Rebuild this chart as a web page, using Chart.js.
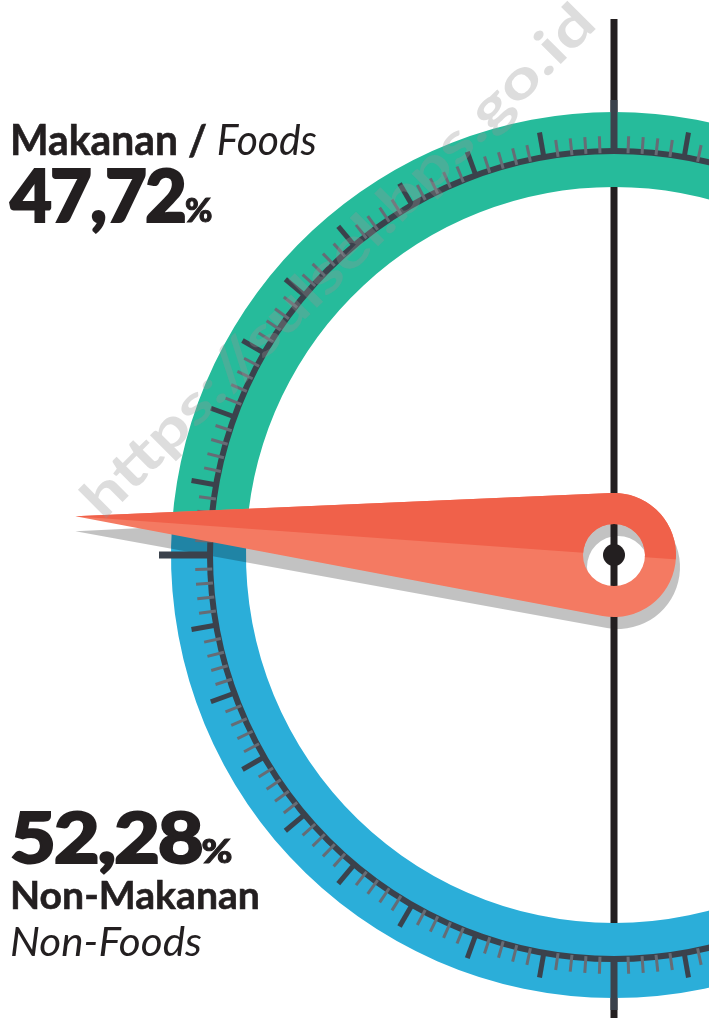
<!DOCTYPE html>
<html><head><meta charset="utf-8">
<script src="https://cdn.jsdelivr.net/npm/chart.js@4.4.1/dist/chart.umd.min.js"></script>
<style>
html,body{margin:0;padding:0;width:709px;height:1018px;overflow:hidden;background:#fff;}
#wrap{position:absolute;left:0;top:0;width:1228px;height:1110px;}
.t{position:absolute;left:10px;white-space:nowrap;color:#231f20;font-family:Lato,'Open Sans',sans-serif;transform-origin:0 0;display:inline-block;}
.num{-webkit-text-stroke:2px #231f20;}
.wm{position:absolute;white-space:nowrap;font-family:Lato,'Open Sans',sans-serif;font-weight:700;color:rgba(150,150,150,0.32);pointer-events:none;display:inline-block;}
</style>
</head><body>
<div id="wrap"><canvas id="c" width="1228" height="1110"></canvas></div>

<div class="t" id="l1" data-w="307" style="top:118px;font-size:42px;line-height:42px;-webkit-text-stroke:0.6px #231f20;"><span style="font-weight:700">Makanan / </span><span style="font-style:italic;font-weight:400;-webkit-text-stroke:0">Foods</span></div>
<div class="t num" id="l2" data-w="202" style="top:158px;font-size:72px;line-height:72px;font-weight:900;letter-spacing:-2px;"><span id="v1"></span><span style="font-size:33px;letter-spacing:0;-webkit-text-stroke:1px #231f20">%</span></div>
<div class="t num" id="l3" data-w="222" style="top:801px;font-size:70px;line-height:70px;font-weight:900;letter-spacing:-2px;"><span id="v2"></span><span style="font-size:33px;letter-spacing:0;-webkit-text-stroke:1px #231f20">%</span></div>
<div class="t" id="l4" data-w="250" style="top:875px;font-size:39px;line-height:39px;font-weight:700;-webkit-text-stroke:0.6px #231f20;">Non-Makanan</div>
<div class="t" id="l5" data-w="192" style="top:921px;font-size:40px;line-height:40px;font-style:italic;font-weight:400;">Non-Foods</div>
<div class="wm" id="wm" style="left:104px;top:474px;font-size:54px;line-height:54px;transform-origin:0px 48px;">https://sulsel.bps.go.id</div>

<script>
// ---- data ----
const categories = ['Makanan / Foods', 'Non-Makanan / Non-Foods'];
const foodShare = 47.72;      // percent
const nonFoodShare = 52.28;   // percent
const shareLabels = ['47,72', '52,28'];
const ringColors = {food: '#26bb9b', nonFood: '#2baed9'};

document.getElementById('v1').textContent = shareLabels[0];
document.getElementById('v2').textContent = shareLabels[1];

const gaugePlugin = {
  id: 'gauge',
  afterDatasetsDraw(chart) {
    const arc = chart.getDatasetMeta(0).data[0];
    const ctx = chart.ctx;
    const cx = arc.x, cy = arc.y, R = arc.outerRadius, r = arc.innerRadius;
    const k = R / 443;
    const ang = arc.endAngle; // boundary between the two shares
    const tipR = 540 * k, hubR = 62 * k, holeR = 31 * k;

    function hullPath(tx, ty, hx, hy) {
      const dx = tx - hx, dy = ty - hy, d = Math.hypot(dx, dy);
      const phi = Math.atan2(dy, dx);
      const beta = Math.acos(hubR / d);
      ctx.beginPath();
      ctx.moveTo(tx, ty);
      ctx.arc(hx, hy, hubR, phi + beta, phi - beta + 2 * Math.PI, false);
      ctx.closePath();
      ctx.moveTo(hx + holeR, hy);
      ctx.arc(hx, hy, holeR, 0, 2 * Math.PI, true);
      ctx.closePath();
    }
    const tx = cx + tipR * Math.cos(ang), ty = cy + tipR * Math.sin(ang);

    ctx.save();
    // shadow
    ctx.fillStyle = 'rgba(0,0,0,0.24)';
    hullPath(tx, ty + 15 * k, cx + 4 * k, cy + 12 * k);
    ctx.fill('evenodd');

    // vertical line (outside the ring band)
    ctx.fillStyle = '#231f20';
    const lw = 7;
    ctx.fillRect(cx - lw / 2, 19, lw, (cy - R) - 19);
    ctx.fillRect(cx - lw / 2, cy - r, lw, 2 * r);
    ctx.fillRect(cx - lw / 2, cy + R, lw, 1018 - (cy + R));

    // scale circle and ticks
    const sR = 404 * k;
    ctx.strokeStyle = '#3b424c';
    ctx.lineWidth = 6;
    ctx.beginPath();
    ctx.arc(cx, cy, sR, 0, 2 * Math.PI);
    ctx.stroke();
    ctx.lineCap = 'butt';
    for (let deg = 0; deg < 360; deg += 2) {
      const a = (deg - 90) * Math.PI / 180;
      let outer, w, col;
      if (deg % 90 === 0) { outer = 455 * k; w = 7; col = '#3b424c'; }
      else if (deg % 10 === 0) { outer = 429 * k; w = 5; col = '#3b424c'; }
      else { outer = 419 * k; w = 3; col = '#666c75'; }
      ctx.strokeStyle = col;
      ctx.lineWidth = w;
      ctx.beginPath();
      ctx.moveTo(cx + (sR - 2) * Math.cos(a), cy + (sR - 2) * Math.sin(a));
      ctx.lineTo(cx + outer * Math.cos(a), cy + outer * Math.sin(a));
      ctx.stroke();
    }

    // needle
    ctx.fillStyle = '#f47a62';
    hullPath(tx, ty, cx, cy);
    ctx.fill('evenodd');
    const d = Math.hypot(cx - tx, cy - ty);
    const ux = (cx - tx) / d, uy = (cy - ty) / d;
    const nx = uy, ny = -ux;
    ctx.save();
    ctx.beginPath();
    const p0x = tx - ux * 50, p0y = ty - uy * 50;
    const p1x = cx + ux * 200, p1y = cy + uy * 200;
    ctx.moveTo(p0x, p0y);
    ctx.lineTo(p1x, p1y);
    ctx.lineTo(p1x + nx * 500, p1y + ny * 500);
    ctx.lineTo(p0x + nx * 500, p0y + ny * 500);
    ctx.closePath();
    ctx.clip();
    ctx.fillStyle = '#f0614a';
    hullPath(tx, ty, cx, cy);
    ctx.fill('evenodd');
    ctx.restore();

    // hub dot
    ctx.fillStyle = '#231f20';
    ctx.beginPath();
    ctx.arc(cx, cy, 11 * k, 0, 2 * Math.PI);
    ctx.fill();
    ctx.restore();
  }
};

new Chart(document.getElementById('c'), {
  type: 'doughnut',
  data: {
    labels: [categories[1], categories[0], categories[0], categories[1]],
    datasets: [{
      data: [nonFoodShare, foodShare, foodShare, nonFoodShare],
      backgroundColor: [ringColors.nonFood, ringColors.food, ringColors.food, ringColors.nonFood],
      borderWidth: 0,
      hoverOffset: 0,
      offset: 0
    }]
  },
  options: {
    responsive: false,
    animation: false,
    rotation: 180,
    circumference: 360,
    cutout: 368,
    layout: {padding: {left: 171, right: 171, top: 112, bottom: 112}},
    plugins: {legend: {display: false}, tooltip: {enabled: false}},
    events: []
  },
  plugins: [gaugePlugin]
});

function fit() {
  document.querySelectorAll('.t').forEach(el => {
    const w = +el.dataset.w;
    el.style.transform = 'scaleX(' + (w / el.offsetWidth) + ')';
  });
  const wm = document.getElementById('wm');
  wm.style.transform = 'rotate(-45deg) scaleX(' + (700 / wm.offsetWidth) + ')';
}
fit();
if (document.fonts && document.fonts.ready) document.fonts.ready.then(fit);
</script>
</body></html>
